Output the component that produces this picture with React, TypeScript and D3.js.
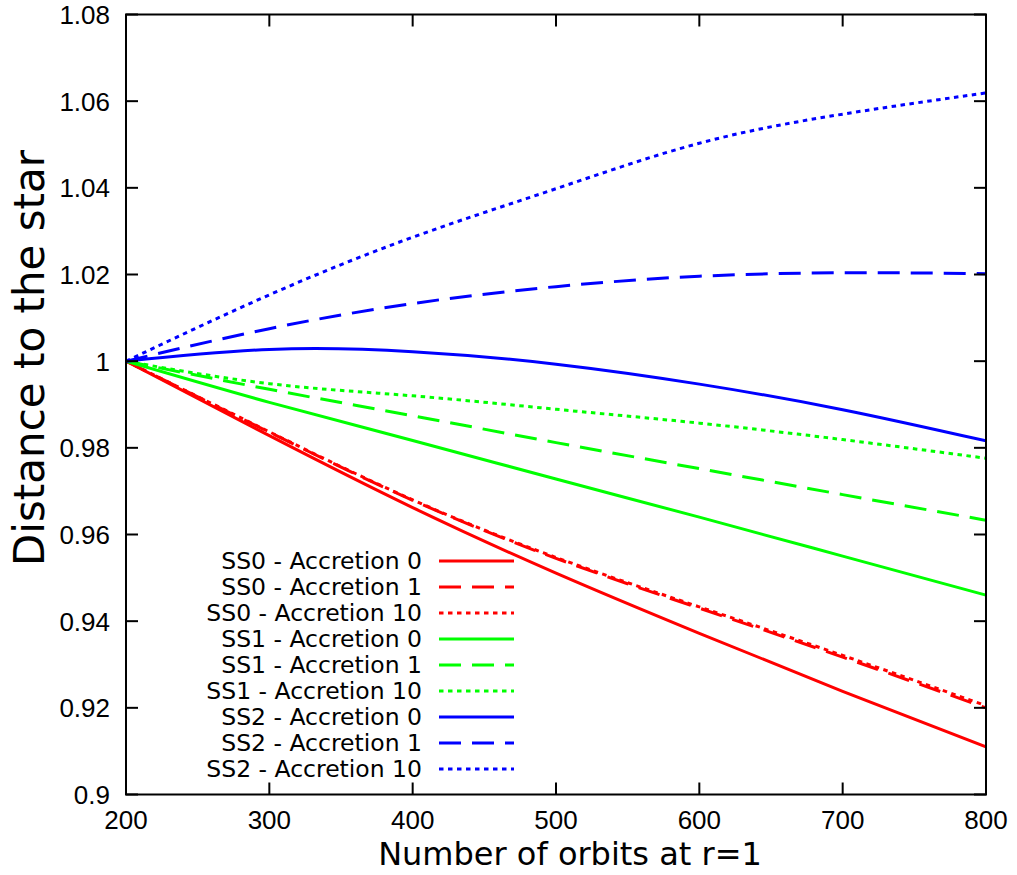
import React from 'react';
import * as d3 from 'd3';

const orbits = [200, 300, 400, 500, 600, 700, 800];

const ss0Acc0 = [1.0, 0.9828, 0.9662, 0.9511, 0.9372, 0.9238, 0.911];
const ss0Acc1 = [1.0, 0.9836, 0.9679, 0.9545, 0.943, 0.9317, 0.92];
const ss0Acc10 = [1.0, 0.9837, 0.968, 0.9547, 0.9433, 0.9321, 0.9205];
const ss1Acc0 = [1.0, 0.9905, 0.9817, 0.9728, 0.964, 0.955, 0.946];
const ss1Acc1 = [1.0, 0.9935, 0.9874, 0.9812, 0.9752, 0.9692, 0.9633];
const ss1Acc10 = [1.0, 0.9948, 0.992, 0.9889, 0.9857, 0.9819, 0.9776];
const ss2Acc0 = [1.0, 1.0027, 1.0022, 0.9993, 0.9947, 0.9888, 0.9816];
const ss2Acc1 = [1.0, 1.0075, 1.0133, 1.0172, 1.0196, 1.0204, 1.0202];
const ss2Acc10 = [1.0, 1.0153, 1.0286, 1.0398, 1.0503, 1.057, 1.0619];

const xTicks = [200, 300, 400, 500, 600, 700, 800];
const yTicks = [0.9, 0.92, 0.94, 0.96, 0.98, 1, 1.02, 1.04, 1.06, 1.08];
const yTickLabels = ['0.9', '0.92', '0.94', '0.96', '0.98', '1', '1.02', '1.04', '1.06', '1.08'];

const RED = '#ff0000';
const GREEN = '#00ff00';
const BLUE = '#0000ff';
const SOLID = 'none';
const DASH = '22,11';
const DOT = '4.5,4.5';

const series = [
  { name: 'SS0 - Accretion 0', values: ss0Acc0, color: RED, dash: SOLID },
  { name: 'SS0 - Accretion 1', values: ss0Acc1, color: RED, dash: DASH },
  { name: 'SS0 - Accretion 10', values: ss0Acc10, color: RED, dash: DOT },
  { name: 'SS1 - Accretion 0', values: ss1Acc0, color: GREEN, dash: SOLID },
  { name: 'SS1 - Accretion 1', values: ss1Acc1, color: GREEN, dash: DASH },
  { name: 'SS1 - Accretion 10', values: ss1Acc10, color: GREEN, dash: DOT },
  { name: 'SS2 - Accretion 0', values: ss2Acc0, color: BLUE, dash: SOLID },
  { name: 'SS2 - Accretion 1', values: ss2Acc1, color: BLUE, dash: DASH },
  { name: 'SS2 - Accretion 10', values: ss2Acc10, color: BLUE, dash: DOT },
];

const W = 1017;
const H = 875;
const plot = { left: 126, right: 986, top: 14.5, bottom: 794.5 };
const tickLen = 12;
const tickFont = '"Liberation Sans", Arial, sans-serif';
const titleFont = '"DejaVu Sans", sans-serif';

export default function App() {
  const x = d3.scaleLinear().domain([200, 800]).range([plot.left, plot.right]);
  const y = d3.scaleLinear().domain([0.9, 1.08]).range([plot.bottom, plot.top]);

  const line = d3
    .line<[number, number]>()
    .x(d => x(d[0]))
    .y(d => y(d[1]))
    .curve(d3.curveNatural);

  const legendX = 422;
  const legendY = 561;
  const legendStep = 26;

  return (
    <svg
      width={W}
      height={H}
      style={{ position: 'absolute', left: 0, top: 0, background: '#fff' }}
    >
      <defs>
        <clipPath id="plotClip">
          <rect x={plot.left} y={plot.top} width={plot.right - plot.left} height={plot.bottom - plot.top} />
        </clipPath>
      </defs>

      {/* curves */}
      <g clipPath="url(#plotClip)">
        {series.map(s => (
          <path
            key={s.name}
            d={line(orbits.map((o, i) => [o, s.values[i]] as [number, number])) || ''}
            fill="none"
            stroke={s.color}
            strokeWidth={3}
            strokeDasharray={s.dash}
          />
        ))}
      </g>

      {/* frame */}
      <rect
        x={plot.left}
        y={plot.top}
        width={plot.right - plot.left}
        height={plot.bottom - plot.top}
        fill="none"
        stroke="#000"
        strokeWidth={2}
      />

      {/* x ticks, mirrored on top */}
      {xTicks.map(t => (
        <g key={'x' + t}>
          <line x1={x(t)} x2={x(t)} y1={plot.bottom} y2={plot.bottom - tickLen} stroke="#000" strokeWidth={2} />
          <line x1={x(t)} x2={x(t)} y1={plot.top} y2={plot.top + tickLen} stroke="#000" strokeWidth={2} />
          <text
            x={x(t)}
            y={829}
            textAnchor="middle"
            fontFamily={tickFont}
            fontSize={26}
            fill="#000"
          >
            {t}
          </text>
        </g>
      ))}

      {/* y ticks, mirrored on right */}
      {yTicks.map((t, i) => (
        <g key={'y' + t}>
          <line x1={plot.left} x2={plot.left + tickLen} y1={y(t)} y2={y(t)} stroke="#000" strokeWidth={2} />
          <line x1={plot.right} x2={plot.right - tickLen} y1={y(t)} y2={y(t)} stroke="#000" strokeWidth={2} />
          <text
            x={110}
            y={y(t)}
            dy="0.36em"
            textAnchor="end"
            fontFamily={tickFont}
            fontSize={26}
            fill="#000"
          >
            {yTickLabels[i]}
          </text>
        </g>
      ))}

      {/* axis titles */}
      <text
        x={(plot.left + plot.right) / 2 + 14}
        y={865}
        textAnchor="middle"
        fontFamily={titleFont}
        fontSize={32}
        fill="#000"
      >
        Number of orbits at r=1
      </text>
      <text
        transform={`translate(44, ${358}) rotate(-90)`}
        textAnchor="middle"
        fontFamily={titleFont}
        fontSize={42}
        fill="#000"
      >
        Distance to the star
      </text>

      {/* legend */}
      {series.map((s, i) => {
        const ly = legendY + i * legendStep;
        return (
          <g key={'leg' + s.name}>
            <text
              x={legendX}
              y={ly}
              dy="0.36em"
              textAnchor="end"
              fontFamily={titleFont}
              fontSize={23.5}
              fill="#000"
            >
              {s.name}
            </text>
            <line
              x1={439}
              x2={514}
              y1={ly}
              y2={ly}
              stroke={s.color}
              strokeWidth={3}
              strokeDasharray={s.dash}
            />
          </g>
        );
      })}
    </svg>
  );
}
